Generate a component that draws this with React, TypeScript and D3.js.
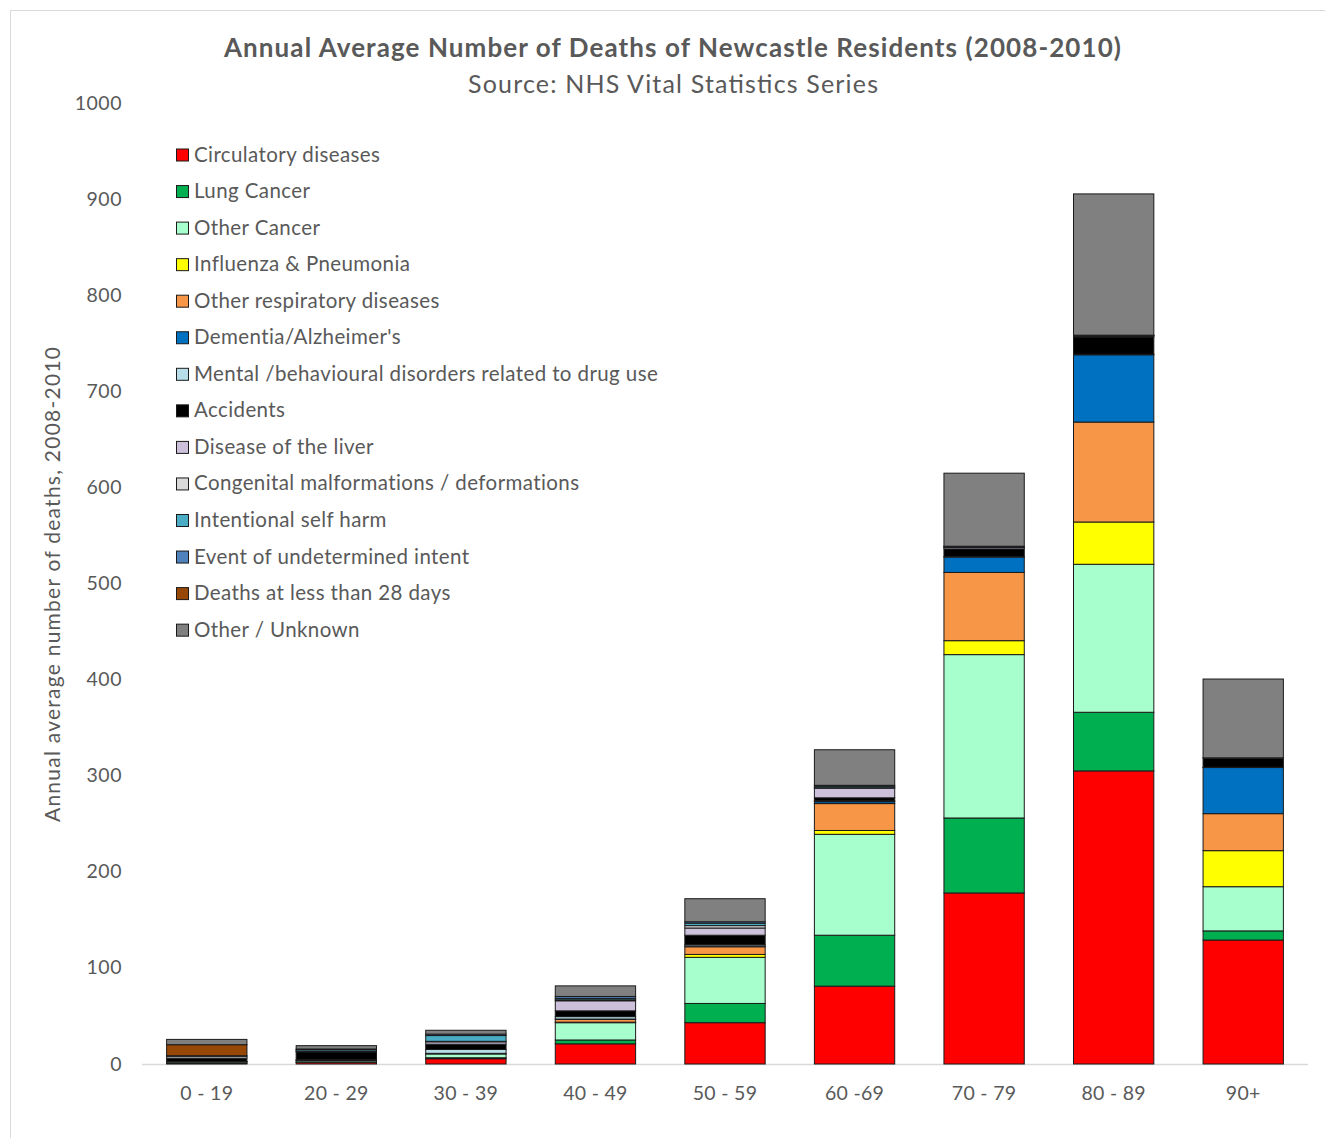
import React from "react";
import * as d3 from "d3";

const ageGroups = ["0 - 19", "20 - 29", "30 - 39", "40 - 49", "50 - 59", "60 -69", "70 - 79", "80 - 89", "90+"];

const seriesNames = [
  "Circulatory diseases",
  "Lung Cancer",
  "Other Cancer",
  "Influenza & Pneumonia",
  "Other respiratory diseases",
  "Dementia/Alzheimer's",
  "Mental /behavioural disorders related to drug use",
  "Accidents",
  "Disease of the liver",
  "Congenital malformations / deformations",
  "Intentional self harm",
  "Event of undetermined intent",
  "Deaths at less than 28 days",
  "Other / Unknown",
];

const seriesColors = [
  "#FF0000", "#00B050", "#A6FFCC", "#FFFF00", "#F79646", "#0070C0", "#B7DEE8",
  "#000000", "#CCC0DA", "#D9D9D9", "#4BACC6", "#4F81BD", "#974706", "#808080",
];

const circulatory = [0.5, 1.5, 5.5, 21, 43, 81, 178, 305, 129];
const lungCancer = [0, 0.3, 1, 4, 20, 53, 78, 61, 9.5];
const otherCancer = [1.5, 1.5, 4, 18, 48, 105, 170, 154, 46];
const influenza = [0, 0, 0.3, 0.5, 3, 4, 14.5, 44, 37.5];
const otherResp = [0.3, 0.3, 0.3, 3, 8, 28, 71, 104, 38.5];
const dementia = [0, 0, 0, 0.3, 0.5, 2, 16, 70, 48];
const mental = [0.3, 1, 4, 2.5, 1.5, 1, 0.5, 0.5, 0.3];
const accidents = [3.5, 8, 5.5, 6, 10, 3, 8, 18, 9.5];
const liver = [0, 0.5, 2.5, 10.5, 7.5, 10, 1.5, 1, 0.3];
const congenital = [2, 0.5, 0.5, 1, 2.5, 0.5, 0.5, 0.3, 0];
const selfHarm = [0.5, 1.5, 6, 1.5, 2.5, 1.5, 0.5, 0.3, 0];
const undetermined = [0, 0.5, 1.5, 2, 1.5, 1, 0.3, 0.3, 0];
const neonatal = [11.5, 0, 0, 0, 0, 0, 0, 0, 0];
const otherUnknown = [5.5, 3.5, 4, 11, 24, 37, 76, 147, 82];

const seriesValues = [
  circulatory, lungCancer, otherCancer, influenza, otherResp, dementia, mental,
  accidents, liver, congenital, selfHarm, undetermined, neonatal, otherUnknown,
];

const yTicks = [0, 100, 200, 300, 400, 500, 600, 700, 800, 900, 1000];

const W = 1325;
const H = 1138;
const FONT = "Lato, 'Open Sans', sans-serif";
const TXT = "#595959";

export default function App() {
  const x = d3.scaleBand<string>().domain(ageGroups).range([142, 1308]).paddingInner(0.38).paddingOuter(0.19);
  const y = d3.scaleLinear().domain([0, 1000]).range([1064, 103]);

  const rows = ageGroups.map((g, i) => {
    const r: any = { group: g };
    seriesNames.forEach((s, j) => (r[s] = seriesValues[j][i]));
    return r;
  });
  const stacked = d3.stack<any>().keys(seriesNames)(rows);

  return (
    <svg width={W} height={H} style={{ position: "absolute", left: 0, top: 0, background: "#fff" }}>
      <rect x={10.5} y={10.5} width={W - 10} height={H} fill="#fff" stroke="#d9d9d9" strokeWidth={1} />
      <text x={672.5} y={57} textAnchor="middle" fontFamily={FONT} fontSize={26} fontWeight="bold" fill={TXT}
        textLength={897} lengthAdjust="spacing">
        Annual  Average Number of Deaths of Newcastle Residents (2008-2010)
      </text>
      <text x={673} y={93} textAnchor="middle" fontFamily={FONT} fontSize={25} fill={TXT}
        textLength={410} lengthAdjust="spacing">
        Source: NHS Vital Statistics Series
      </text>
      {yTicks.map((t) => (
        <text key={t} x={122} y={y(t) + 6.5} textAnchor="end" fontFamily={FONT} fontSize={19.5} letterSpacing={0.5} fill={TXT}>
          {t}
        </text>
      ))}
      <text
        transform={`translate(60,584.5) rotate(-90)`}
        textAnchor="middle"
        fontFamily={FONT}
        fontSize={21}
        fill={TXT}
        textLength={475}
        lengthAdjust="spacing"
      >
        Annual average number of deaths, 2008-2010
      </text>
      <line x1={142} x2={1308} y1={y(0) + 0.5} y2={y(0) + 0.5} stroke="#d9d9d9" strokeWidth={1.5} />
      {stacked.map((layer, j) => (
        <g key={layer.key}>
          {layer.map((d, i) => {
            const h = y(d[0]) - y(d[1]);
            if (h <= 0) return null;
            return (
              <rect
                key={i}
                x={x(ageGroups[i])}
                y={y(d[1])}
                width={x.bandwidth()}
                height={h}
                fill={seriesColors[j]}
                stroke="#1a1a1a"
                strokeWidth={1}
              />
            );
          })}
        </g>
      ))}
      {ageGroups.map((g) => (
        <text key={g} x={(x(g) as number) + x.bandwidth() / 2} y={1100} textAnchor="middle" fontFamily={FONT} fontSize={19.5} letterSpacing={0.3} fill={TXT}>
          {g}
        </text>
      ))}
      {seriesNames.map((s, j) => {
        const cy = 155 + j * 36.55;
        return (
          <g key={s}>
            <rect x={176.5} y={cy - 6} width={12} height={12} fill={seriesColors[j]} stroke="#1a1a1a" strokeWidth={1} />
            <text x={194} y={cy + 6.5} fontFamily={FONT} fontSize={20.5} letterSpacing={0.4} fill={TXT}>
              {s}
            </text>
          </g>
        );
      })}
    </svg>
  );
}
